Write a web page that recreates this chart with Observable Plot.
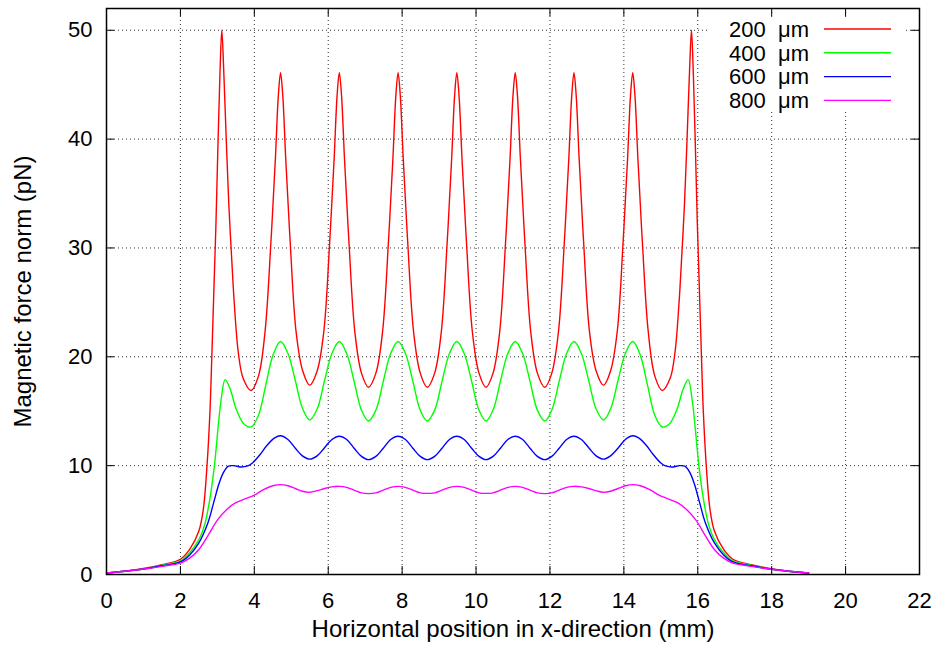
<!DOCTYPE html>
<html><head><meta charset="utf-8">
<script src="https://cdn.jsdelivr.net/npm/d3@7"></script>
<script src="https://cdn.jsdelivr.net/npm/@observablehq/plot@0.6"></script>
<style>
body{margin:0;background:#fff}
svg{font-family:"Liberation Sans",Arial,Helvetica,sans-serif}
</style>
</head><body><div id="chart"></div>
<script>
const xTicks = [0,2,4,6,8,10,12,14,16,18,20,22];
const yTicks = [0,10,20,30,40,50];
const seriesNames = ["200  \u03bcm","400  \u03bcm","600  \u03bcm","800  \u03bcm"];
const seriesColors = ["#ff0000","#00ff00","#0000ff","#ff00ff"];
const xLabel = "Horizontal position in x-direction (mm)";
const yLabel = "Magnetic force norm (pN)";

// 200 um
const x200 = [0,0.5,1.0,1.5,2.0,2.25,2.5,2.62,2.72,2.80,2.85,2.90,2.96,3.02,3.07,3.12,3.17,3.24,3.31,3.38,3.46,3.57,3.70,3.91,
 4.11,4.29,4.45,4.57,4.65,4.71,4.77,4.85,4.97,5.13,5.31,5.50,
 5.70,5.88,6.04,6.16,6.24,6.30,6.36,6.44,6.56,6.72,6.90,7.09,
 7.29,7.47,7.63,7.75,7.83,7.89,7.95,8.03,8.15,8.31,8.49,8.68,
 8.88,9.06,9.22,9.34,9.42,9.48,9.54,9.62,9.74,9.90,10.08,10.27,
 10.46,10.64,10.80,10.92,11.00,11.06,11.12,11.20,11.32,11.48,11.66,11.86,
 12.05,12.23,12.39,12.51,12.59,12.65,12.71,12.79,12.91,13.07,13.25,13.45,
 13.64,13.82,13.98,14.10,14.18,14.24,14.30,14.38,14.50,14.66,14.84,15.04,
 15.25,15.38,15.49,15.57,15.64,15.71,15.78,15.83,15.88,15.93,15.99,16.05,16.10,16.15,16.23,16.33,16.45,16.70,16.95,17.45,17.95,18.45,19.0];
const y200 = [0.15,0.3,0.55,0.9,1.4,2.3,4.0,6.0,10.0,15.0,20.0,25.5,32.0,40.0,46.0,50.0,46.5,40.0,34.0,29.5,24.8,20.3,18.0,16.9,
 18.2,22.3,30.6,38.2,44.0,46.1,44.0,38.2,30.6,22.3,18.7,17.4,
 18.7,22.3,30.6,38.2,44.0,46.1,44.0,38.2,30.6,22.3,18.5,17.2,
 18.5,22.3,30.6,38.2,44.0,46.1,44.0,38.2,30.6,22.3,18.5,17.2,
 18.5,22.3,30.6,38.2,44.0,46.1,44.0,38.2,30.6,22.3,18.5,17.2,
 18.5,22.3,30.6,38.2,44.0,46.1,44.0,38.2,30.6,22.3,18.5,17.2,
 18.5,22.3,30.6,38.2,44.0,46.1,44.0,38.2,30.6,22.3,18.7,17.4,
 18.7,22.3,30.6,38.2,44.0,46.1,44.0,38.2,30.6,22.3,18.2,16.9,
 18.0,20.3,24.8,29.5,34.0,40.0,46.5,50.0,46.0,40.0,32.0,25.5,20.0,15.0,10.0,6.0,4.0,2.3,1.4,0.9,0.55,0.3,0.15];

// 400 um
const x400 = [0,0.5,1.0,1.5,2.0,2.25,2.5,2.65,2.8,2.92,3.02,3.10,3.21,3.35,3.5,3.7,3.91,
 4.11,4.31,4.51,4.71,4.91,5.11,5.31,5.50,
 5.70,5.90,6.10,6.30,6.50,6.70,6.90,7.09,
 7.29,7.49,7.69,7.89,8.09,8.29,8.49,8.68,
 8.88,9.08,9.28,9.48,9.68,9.88,10.08,10.27,
 10.46,10.66,10.86,11.06,11.26,11.46,11.66,11.86,
 12.05,12.25,12.45,12.65,12.85,13.05,13.25,13.45,
 13.64,13.84,14.04,14.24,14.44,14.64,14.84,15.04,
 15.25,15.45,15.60,15.74,15.85,15.93,16.03,16.15,16.30,16.45,16.70,16.95,17.45,17.95,18.45,19.0];
const y400 = [0.15,0.3,0.5,0.85,1.25,2.0,3.2,4.5,7.0,10.0,13.5,16.0,17.9,17.0,15.3,13.9,13.55,
 14.6,17.4,20.2,21.4,20.3,17.8,15.2,14.2,
 15.2,17.8,20.3,21.4,20.3,17.75,15.1,14.1,
 15.1,17.75,20.3,21.4,20.3,17.75,15.1,14.1,
 15.1,17.75,20.3,21.4,20.3,17.75,15.1,14.1,
 15.1,17.75,20.3,21.4,20.3,17.75,15.1,14.1,
 15.1,17.75,20.3,21.4,20.3,17.8,15.2,14.2,
 15.2,17.8,20.3,21.4,20.2,17.4,14.6,13.55,
 13.9,15.3,17.0,17.9,16.0,13.5,10.0,7.0,4.5,3.2,2.0,1.25,0.85,0.5,0.3,0.15];

// 600 um
const x600 = [0,0.5,1.0,1.5,2.0,2.25,2.5,2.75,2.9,3.05,3.17,3.3,3.45,3.62,3.8,3.95,4.15,4.35,4.55,4.71,4.91,5.11,5.30,5.50,
 5.70,5.90,6.10,6.30,6.50,6.70,6.90,7.09,
 7.29,7.49,7.69,7.89,8.09,8.29,8.49,8.68,
 8.88,9.08,9.28,9.48,9.68,9.88,10.08,10.27,
 10.46,10.66,10.86,11.06,11.26,11.46,11.66,11.86,
 12.05,12.25,12.45,12.65,12.85,13.05,13.25,13.45,
 13.64,13.84,14.04,14.24,14.40,14.60,14.80,15.00,15.15,15.33,15.50,15.65,15.78,15.90,16.05,16.20,16.45,16.70,16.95,17.45,17.95,18.45,19.0];
const y600 = [0.15,0.3,0.5,0.8,1.15,1.8,2.9,4.8,6.6,8.4,9.4,9.95,10.0,9.88,9.95,10.25,11.0,11.9,12.55,12.75,12.4,11.6,10.9,10.6,
 10.9,11.65,12.4,12.7,12.4,11.6,10.85,10.55,
 10.85,11.6,12.4,12.7,12.4,11.6,10.85,10.55,
 10.85,11.6,12.4,12.7,12.4,11.6,10.85,10.55,
 10.85,11.6,12.4,12.7,12.4,11.6,10.85,10.55,
 10.85,11.6,12.4,12.7,12.4,11.65,10.9,10.6,
 10.9,11.6,12.4,12.75,12.55,11.9,11.0,10.25,9.95,9.88,10.0,9.95,9.4,8.4,6.6,4.8,2.9,1.8,1.15,0.8,0.5,0.3,0.15];

// 800 um
const x800 = [0,0.5,1.0,1.5,2.0,2.25,2.5,2.75,3.0,3.26,3.5,3.75,4.0,4.25,4.5,4.71,4.91,5.11,5.30,5.50,
 5.70,5.90,6.10,6.30,6.50,6.70,6.90,7.09,
 7.29,7.49,7.69,7.89,8.09,8.29,8.49,8.68,
 8.88,9.08,9.28,9.48,9.68,9.88,10.08,10.27,
 10.46,10.66,10.86,11.06,11.26,11.46,11.66,11.86,
 12.05,12.25,12.45,12.65,12.85,13.05,13.25,13.45,
 13.64,13.84,14.04,14.24,14.45,14.70,14.95,15.20,15.45,15.69,15.95,16.20,16.45,16.70,16.95,17.45,17.95,18.45,19.0];
const y800 = [0.15,0.3,0.5,0.75,1.05,1.5,2.3,3.6,5.0,6.0,6.6,6.95,7.3,7.8,8.15,8.26,8.15,7.9,7.65,7.55,
 7.7,7.9,8.05,8.1,8.0,7.75,7.5,7.43,
 7.5,7.75,8.0,8.1,8.0,7.75,7.5,7.45,
 7.5,7.75,8.0,8.1,8.0,7.75,7.5,7.45,
 7.5,7.75,8.0,8.1,8.0,7.75,7.5,7.43,
 7.5,7.75,8.0,8.1,8.05,7.9,7.7,7.55,
 7.65,7.9,8.15,8.26,8.15,7.8,7.3,6.95,6.6,6.0,5.0,3.6,2.3,1.5,1.05,0.75,0.5,0.3,0.15];

const seriesX = [x200,x400,x600,x800];
const seriesY = [y200,y400,y600,y800];
const rows = [];
seriesX.forEach((xs,i) => xs.forEach((x,j) => rows.push({x, y: seriesY[i][j], s: seriesNames[i]})));

const W = 939, H = 650, mL = 106, mR = 20, mT = 8, mB = 76;
const pw = W - mL - mR, ph = H - mT - mB;
const gridStyle = {stroke: "#333", strokeWidth: 1, strokeDasharray: "1,3"};

const chart = Plot.plot({
  width: W, height: H,
  marginLeft: mL, marginRight: mR, marginTop: mT, marginBottom: mB,
  style: {fontFamily: '"Liberation Sans",Arial,Helvetica,sans-serif', background: "white", color: "black"},
  x: {domain: [0, 22]},
  y: {domain: [0, 52]},
  color: {domain: seriesNames, range: seriesColors},
  marks: [
    Plot.ruleX(xTicks.filter(d => d > 0 && d < 22), gridStyle),
    Plot.ruleY(yTicks.filter(d => d > 0), gridStyle),
    Plot.line(rows, {x: "x", y: "y", z: "s", stroke: "s", strokeWidth: 1.4, curve: "catmull-rom"}),
    Plot.tickX(xTicks, {x: d => d, insetTop: ph - 8, strokeWidth: 1}),
    Plot.tickX(xTicks, {x: d => d, insetBottom: ph - 8, strokeWidth: 1}),
    Plot.tickY(yTicks, {y: d => d, insetRight: pw - 8, strokeWidth: 1}),
    Plot.tickY(yTicks, {y: d => d, insetLeft: pw - 8, strokeWidth: 1}),
    Plot.frame({stroke: "black", strokeWidth: 1.5}),
    Plot.axisX({ticks: xTicks, tickSize: 0, tickPadding: 18, fontSize: 22, label: null}),
    Plot.axisY({ticks: yTicks, tickSize: 0, tickPadding: 14, fontSize: 22, label: null}),
    Plot.text([xLabel], {frameAnchor: "bottom", dy: 55, fontSize: 24, textAnchor: "middle", lineAnchor: "middle"}),
    Plot.text([yLabel], {frameAnchor: "left", dx: -83, rotate: -90, fontSize: 24, textAnchor: "middle", lineAnchor: "middle"})
  ]
});

// legend (gnuplot key, top right, opaque)
const svg = d3.select(chart);
const key = svg.append("g");
key.append("rect").attr("x", 707).attr("y", 17).attr("width", 199).attr("height", 95).attr("fill", "white");
seriesNames.forEach((name, i) => {
  const ly = 29 + i * 23.8;
  key.append("line").attr("x1", 824).attr("x2", 891).attr("y1", ly).attr("y2", ly)
    .attr("stroke", seriesColors[i]).attr("stroke-width", 1.4);
  key.append("text").attr("x", 809).attr("y", ly + 7.7).attr("text-anchor", "end")
    .attr("font-size", 22).attr("xml:space", "preserve").style("white-space", "pre")
    .text(name);
});

document.getElementById("chart").appendChild(chart);
</script>
</body></html>
